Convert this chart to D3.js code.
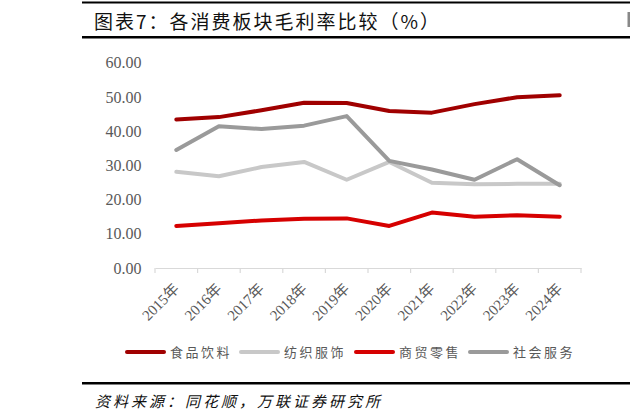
<!DOCTYPE html>
<html>
<head>
<meta charset="utf-8">
<script src="https://cdn.jsdelivr.net/npm/d3@7"></script>
<style>
  body { margin: 0; background: #fff; }
  svg { display: block; }
</style>
</head>
<body>
<div id="chart"></div>
<script>
/* chart data */
var years = ["2015年","2016年","2017年","2018年","2019年","2020年","2021年","2022年","2023年","2024年"];
var seriesNames = ["食品饮料","纺织服饰","商贸零售","社会服务"];
var food    = [43.4, 44.1, 46.1, 48.3, 48.2, 45.9, 45.4, 47.9, 49.9, 50.5];
var textile = [28.1, 26.8, 29.5, 31.0, 25.8, 31.0, 24.9, 24.5, 24.6, 24.6];
var retail  = [12.3, 13.1, 13.9, 14.4, 14.5, 12.3, 16.2, 15.0, 15.4, 15.0];
var service = [34.5, 41.4, 40.6, 41.6, 44.4, 31.3, 28.8, 25.8, 31.8, 24.2];
var yTicks  = [0, 10, 20, 30, 40, 50, 60];

var colors = ["#a00000", "#c8c8c8", "#d60000", "#9a9a9a"];
var allSeries = [food, textile, retail, service];

var W = 630, H = 420;
var svg = d3.select("#chart").append("svg")
    .attr("width", W)
    .attr("height", H);

/* header rules and title */
svg.append("rect").attr("x", 82).attr("y", 1.5).attr("width", W - 82).attr("height", 2).attr("fill", "#000");
svg.append("rect").attr("x", 82).attr("y", 36).attr("width", W - 82).attr("height", 2.5).attr("fill", "#000");
svg.append("rect").attr("x", 627.5).attr("y", 12).attr("width", 2.5).attr("height", 15).attr("fill", "#888");
svg.append("text")
    .attr("x", 94).attr("y", 29)
    .attr("font-family", "'Noto Sans CJK SC', 'Liberation Serif', serif")
    .attr("font-size", 19)
    .attr("letter-spacing", 2)
    .attr("fill", "#111")
    .text("图表7：各消费板块毛利率比较（%）");

/* scales */
var x = d3.scaleBand().domain(years).range([155, 581]);
var y = d3.scaleLinear().domain([0, 60]).range([268, 62.7]);

/* y axis labels */
svg.append("g").selectAll("text")
    .data(yTicks)
    .enter().append("text")
    .attr("x", 141.5)
    .attr("y", function (d) { return y(d); })
    .attr("dy", "0.35em")
    .attr("text-anchor", "end")
    .attr("font-family", "'Liberation Serif', serif")
    .attr("font-size", 16)
    .attr("fill", "#595959")
    .text(function (d) { return d.toFixed(2); });

/* x axis */
var xAxis = svg.append("g")
    .attr("transform", "translate(0," + y(0) + ")")
    .call(d3.axisBottom(x).tickSize(0).tickFormat(""));
xAxis.select(".domain").attr("stroke", "#d9d9d9").attr("stroke-width", 1.2);

var edges = years.map(function (d) { return x(d); }).concat([x.range()[1]]);
xAxis.selectAll(".edge")
    .data(edges)
    .enter().append("line")
    .attr("x1", function (d) { return d; })
    .attr("x2", function (d) { return d; })
    .attr("y1", 0).attr("y2", 5)
    .attr("stroke", "#d9d9d9").attr("stroke-width", 1.2);

svg.append("g").selectAll("text")
    .data(years)
    .enter().append("text")
    .attr("transform", function (d) {
        return "translate(" + (x(d) + x.bandwidth() / 2) + "," + (y(0) + 18) + ") rotate(-45)";
    })
    .attr("text-anchor", "end")
    .attr("dy", "0.35em")
    .attr("font-family", "'Liberation Serif', 'Noto Sans CJK SC', serif")
    .attr("font-size", 15)
    .attr("fill", "#595959")
    .text(function (d) { return d; });

/* lines */
var line = d3.line()
    .x(function (d, i) { return x(years[i]) + x.bandwidth() / 2; })
    .y(function (d) { return y(d); });

svg.append("g").selectAll("path")
    .data(allSeries)
    .enter().append("path")
    .attr("d", line)
    .attr("fill", "none")
    .attr("stroke", function (d, i) { return colors[i]; })
    .attr("stroke-width", 4)
    .attr("stroke-linecap", "round")
    .attr("stroke-linejoin", "round");

/* legend */
var legendX = [125, 239, 354, 468];
var legend = svg.append("g").selectAll("g")
    .data(seriesNames)
    .enter().append("g")
    .attr("transform", function (d, i) { return "translate(" + legendX[i] + ",352)"; });
legend.append("line")
    .attr("x1", 2).attr("x2", 39)
    .attr("stroke", function (d, i) { return colors[i]; })
    .attr("stroke-width", 4)
    .attr("stroke-linecap", "round");
legend.append("text")
    .attr("x", 45)
    .attr("dy", "0.36em")
    .attr("font-family", "'Noto Sans CJK SC', sans-serif")
    .attr("font-size", 13)
    .attr("letter-spacing", 2.5)
    .attr("fill", "#595959")
    .text(function (d) { return d; });

/* footer */
svg.append("rect").attr("x", 82).attr("y", 382).attr("width", W - 82).attr("height", 2.5).attr("fill", "#000");
svg.append("text")
    .attr("x", 95).attr("y", 407)
    .attr("font-family", "'Noto Sans CJK SC', sans-serif")
    .attr("font-size", 15)
    .attr("letter-spacing", 3)
    .attr("font-style", "italic")
    .attr("fill", "#111")
    .text("资料来源：同花顺，万联证券研究所");
</script>
</body>
</html>
